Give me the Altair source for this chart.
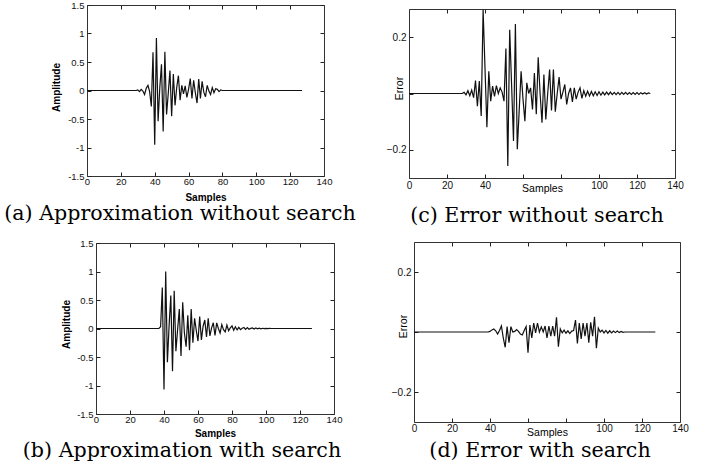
import altair as alt
import pandas as pd

W, H = 709, 475

# ---------------- data ----------------
sample_index = list(range(128))

amp_without_search = [0.0] * 30 + [
    0.01, -0.02, 0.02, -0.01, -0.07, 0.04, 0.09, -0.02, -0.28, 0.67,
    -0.95, 0.92, -0.54, 0.05, 0.46, -0.72, 0.68, -0.42, -0.05, 0.35,
    -0.45, 0.29, -0.26, 0.05, 0.26, -0.17, 0.09, -0.06, 0.08, -0.12,
    0.02, 0.21, -0.14, 0.18, -0.04, -0.22, 0.20, -0.14, 0.16, -0.03,
    -0.11, 0.09, -0.01, -0.07, 0.05, -0.04, 0.03, 0.02, -0.02, 0.01,
] + [0.0] * 48

amp_with_search = [0.0] * 37 + [
    0.0, 0.03, 0.72, -1.07, 1.00, -0.59, 0.05, 0.58, -0.75, 0.66,
    -0.40, -0.02, 0.34, -0.48, 0.46, -0.08, -0.32, 0.23, -0.38, 0.34,
    -0.25, 0.18, -0.04, -0.22, 0.21, -0.20, 0.04, 0.15, -0.15, 0.18,
    -0.13, 0.01, 0.10, -0.12, 0.10, 0.00, -0.08, 0.07, -0.02, -0.06,
    0.06, -0.04, 0.01, 0.045, -0.03, 0.03, -0.025, 0.02, -0.02, 0.005,
    0.018, -0.015, 0.015, -0.012, 0.002, 0.01, -0.01, 0.008, -0.006, 0.006,
    -0.005, 0.004, -0.003, 0.003, -0.002, 0.002,
] + [0.0] * 25

err_without_search = [0.0] * 28 + [
    0.0, 0.004, -0.005, 0.01, -0.008, 0.012, -0.015, 0.046, -0.045, 0.044,
    -0.08, 0.297, 0.09, -0.12, 0.079, -0.027, 0.026, -0.01, 0.028, 0.0,
    0.02, 0.005, -0.027, 0.16, -0.257, 0.226, 0.03, -0.169, 0.247, -0.198,
    -0.06, 0.079, -0.02, -0.098, 0.038, 0.0, 0.02, -0.057, 0.073, -0.074,
    0.129, 0.0, -0.104, 0.067, -0.092, 0.0, 0.085, -0.06, 0.085, -0.065,
    0.0, 0.058, -0.02, 0.005, 0.032, -0.039, 0.0, 0.02, -0.03, 0.02,
    -0.02, 0.005, 0.02, -0.017, 0.01, -0.01, 0.008, -0.009, 0.007, -0.008,
    0.006, -0.007, 0.006, -0.006, 0.005, -0.005, 0.005, -0.004, 0.005, -0.004,
    0.004, -0.004, 0.004, -0.004, 0.004, -0.003, 0.004, -0.003, 0.003, -0.003,
    0.003, -0.003, 0.003, -0.003, 0.003, -0.002, 0.003, -0.002, 0.002,
] + [0.0] * 1

err_with_search = [0.0] * 40 + [
    0.002, 0.007, 0.01, 0.004, -0.007, 0.005, 0.02, -0.02, -0.051, 0.018,
    -0.036, 0.018, 0.0, 0.002, 0.008, 0.002, -0.007, -0.01, 0.005, 0.018,
    -0.069, 0.023, -0.02, 0.03, -0.003, 0.03, 0.0, 0.017, 0.0, 0.02,
    -0.02, 0.02, -0.014, 0.02, -0.014, 0.049, -0.049, 0.01, -0.003, 0.006,
    -0.004, 0.004, -0.005, 0.003, 0.005, 0.04, -0.038, 0.03, -0.023, 0.03,
    -0.014, 0.03, -0.036, 0.032, -0.014, 0.051, -0.054, 0.013, 0.0, 0.006,
    -0.003, 0.005, -0.004, 0.004, -0.003, 0.003, -0.002, 0.003, -0.002, 0.002, -0.001,
] + [0.0] * 17

x_ticks = [0, 20, 40, 60, 80, 100, 120, 140]
amp_ticks = [-1.5, -1, -0.5, 0, 0.5, 1, 1.5]
err_ticks = [-0.2, 0, 0.2]
amp_domain = [-1.5, 1.5]
err_domain = [-0.3, 0.3]

captions = [
    "(a) Approximation without search",
    "(c) Error without search",
    "(b) Approximation with search",
    "(d) Error with search",
]

SANS = "Liberation Sans"
SERIF = "DejaVu Serif"
INK = "#111111"
FRAME = "#333333"
TICK = "#222222"


def panel(values, L, R, T, B, ydom, yvals, ytitle, matlab_bold,
          xlab_pad, xtitle_dy, ytitle_dx, ytitle_y):
    df = pd.DataFrame({"s": sample_index, "v": values})
    xs = alt.Scale(domain=[0, 140], range=[L, R], nice=False, zero=False)
    ys = alt.Scale(domain=ydom, range=[B, T], nice=False, zero=False)
    if matlab_bold:
        xexpr = "datum.label"
        yexpr = "replace(datum.label, '\u2212', '-')"
        tweight = "bold"
        tsize = 10
        lsize = 9.5
    else:
        xexpr = "datum.value == 60 || datum.value == 80 ? '' : datum.label"
        yexpr = "datum.value == 0 ? '' : datum.label"
        tweight = "normal"
        tsize = 10.5
        lsize = 10
    base = alt.Chart(df)
    main = base.mark_line(color=INK, strokeWidth=1.2).encode(
        x=alt.X("s:Q", scale=xs, axis=alt.Axis(
            orient="bottom", offset=B - H, values=x_ticks, ticks=False,
            tickSize=0,
            domain=True, domainColor=FRAME, domainWidth=1, grid=False,
            labelFont=SANS, labelFontSize=lsize, labelColor=INK,
            labelPadding=xlab_pad, labelExpr=xexpr, labelFlush=False,
            title="Samples", titleFont=SANS, titleFontSize=tsize,
            titleFontWeight=tweight, titleColor="#000",
            titleX=(L + R) / 2, titleY=xtitle_dy,
            titleAlign="center", titleBaseline="middle")),
        y=alt.Y("v:Q", scale=ys, axis=alt.Axis(
            orient="left", offset=-L, values=yvals, ticks=False,
            tickSize=0,
            domain=True, domainColor=FRAME, domainWidth=1, grid=False,
            format=".1~f", labelFont=SANS, labelFontSize=lsize,
            labelColor=INK, labelPadding=3, labelExpr=yexpr,
            labelFlush=False,
            title=ytitle, titleFont=SANS, titleFontSize=tsize,
            titleFontWeight=tweight, titleColor="#000",
            titleX=ytitle_dx, titleY=ytitle_y, titleAngle=270,
            titleAlign="center", titleBaseline="middle")),
    )
    # inward ticks on bottom (pointing up) and left (pointing right)
    inner1 = base.mark_line(opacity=0).encode(
        x=alt.X("s:Q", scale=xs, axis=alt.Axis(
            orient="top", offset=-B, values=x_ticks, labels=False,
            domain=False, grid=False, ticks=True, tickSize=4,
            tickWidth=1, tickColor=TICK, title=None)),
        y=alt.Y("v:Q", scale=ys, axis=alt.Axis(
            orient="right", offset=L - W, values=yvals, labels=False,
            domain=False, grid=False, ticks=True, tickSize=4,
            tickWidth=1, tickColor=TICK, title=None)),
    )
    # top and right frame with inward ticks
    inner2 = base.mark_line(opacity=0).encode(
        x=alt.X("s:Q", scale=xs, axis=alt.Axis(
            orient="bottom", offset=T - H, values=x_ticks, labels=False,
            domain=True, domainColor=FRAME, grid=False, ticks=True,
            tickSize=4, tickWidth=1, tickColor=TICK, title=None)),
        y=alt.Y("v:Q", scale=ys, axis=alt.Axis(
            orient="left", offset=-R, values=yvals, labels=False,
            domain=True, domainColor=FRAME, grid=False, ticks=True,
            tickSize=4, tickWidth=1, tickColor=TICK, title=None)),
    )
    return [main, inner1, inner2]


layers = []
layers += panel(amp_without_search, 87, 324, 5, 176, amp_domain, amp_ticks,
                "Amplitude", True, 0, 21, -31, 87)
layers += panel(err_without_search, 409, 675, 9, 178, err_domain, err_ticks,
                "Error", False, 2, 10, -10, 88)
layers += panel(amp_with_search, 96, 334, 243, 414, amp_domain, amp_ticks,
                "Amplitude", True, 0, 19, -30, 324)
layers += panel(err_with_search, 414, 680, 242, 422, err_domain, err_ticks,
                "Error", False, 1, 10, -11, 326)

caption_pos = [(180, 220), (537, 222), (182, 457), (540, 457)]
for cap, (cx, cy) in zip(captions, caption_pos):
    layers.append(
        alt.Chart(pd.DataFrame({"caption": [cap]})).mark_text(
            font=SERIF, fontSize=20.6, color="#000", align="center",
            baseline="alphabetic"
        ).encode(x=alt.value(cx), y=alt.value(cy), text="caption:N")
    )

chart = (
    alt.layer(*layers)
    .resolve_scale(x="independent", y="independent")
    .resolve_axis(x="independent", y="independent")
    .properties(width=W, height=H, padding=0, background="white",
                autosize=alt.AutoSizeParams(type="none"))
    .configure_view(stroke=None)
)

chart.save("out.html", embed_options={"renderer": "svg", "actions": False})
